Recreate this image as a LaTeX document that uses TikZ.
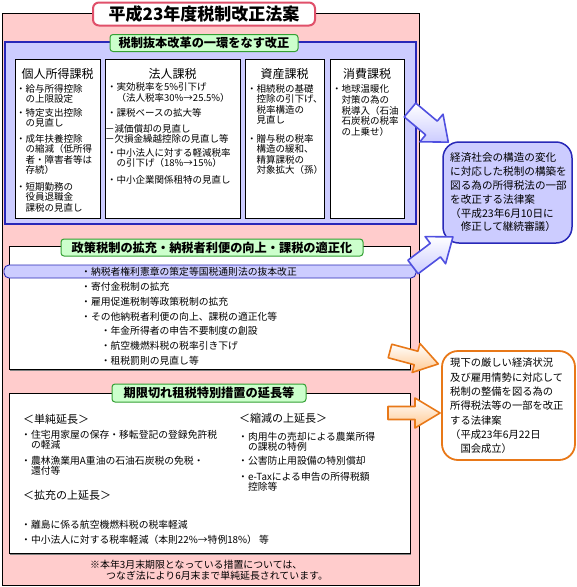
\documentclass[tikz,border=0pt]{standalone}
\usepackage{fontspec}
\setmainfont{Noto Sans CJK JP}
\definecolor{pinkbg}{HTML}{FFCCCC}
\definecolor{lav}{HTML}{CCCCFF}
\definecolor{blueln}{HTML}{2828B8}
\definecolor{greenfill}{HTML}{CCFFCC}
\definecolor{greenln}{HTML}{33A033}
\definecolor{titleln}{HTML}{E0506A}
\definecolor{orangeln}{HTML}{E87818}
\definecolor{orangefill}{HTML}{FFC890}
\definecolor{arrowblue}{HTML}{5050E0}
\newcommand{\blockarr}[8]{%
  \begin{scope}[shift={(#1,#2)},rotate=#3]
    \draw[#8] (0,-#5) -- ({#4-#7},-#5) -- ({#4-#7},-#6) -- (#4,0) -- ({#4-#7},#6) -- ({#4-#7},#5) -- (0,#5) -- cycle;
  \end{scope}}
\begin{document}
\begin{tikzpicture}[x=1pt,y=-1pt,
  frame/.style={draw=black, line width=0.8pt},
  titlebox/.style={draw=titleln, line width=2pt, fill=white, rounded corners=6pt, minimum width=222pt, minimum height=23pt, inner sep=0pt, font=\fontsize{17}{17}\selectfont\bfseries},
  greenlbl/.style={draw=greenln, line width=1pt, fill=greenfill, rounded corners=3pt, inner sep=0pt, minimum height=17pt, font=\fontsize{12.2}{12.2}\selectfont\bfseries},
  coltitle/.style={font=\fontsize{12}{12}\selectfont, inner sep=0pt},
  item/.style={anchor=north west, inner sep=0pt, align=left, font=\fontsize{9.5}{10.2}\selectfont},
  itemb/.style={anchor=north west, inner sep=0pt, align=left, font=\fontsize{9.8}{10}\selectfont},
  head/.style={anchor=west, inner sep=0pt, font=\fontsize{11}{11}\selectfont},
  bodytxt/.style={anchor=north west, inner sep=0pt, align=left, font=\fontsize{9.8}{14.8}\selectfont},
  bubtxt/.style={anchor=north west, inner sep=0pt, align=left, font=\fontsize{10.6}{13.8}\selectfont},
  bubtxtb/.style={anchor=north west, inner sep=0pt, align=left, font=\fontsize{10.3}{14.3}\selectfont},
  note/.style={anchor=west, inner sep=0pt, font=\fontsize{9.9}{9.9}\selectfont},
  bluearrow/.style={draw=arrowblue, line width=1.6pt, top color=white, bottom color=lav, line join=round},
  orangearrow/.style={draw=orangeln, line width=1.6pt, top color=white, bottom color=orangefill, line join=round}]
\useasboundingbox (0,0) rectangle (577,587);
\fill[white] (0,0) rectangle (577,587);

% outer frame
\draw[frame, fill=pinkbg] (2,13) rectangle (419,585);
\node[titlebox] (title) at (204,14) {平成23年度税制改正法案};

% section 1
\draw[draw=blueln, line width=1.2pt, fill=lav] (5,42) rectangle (416,224);
\draw[frame, fill=white] (15,59) rectangle (100,218);
\draw[frame, fill=white] (105,59) rectangle (240,218);
\draw[frame, fill=white] (245,59) rectangle (324,218);
\draw[frame, fill=white] (330,59) rectangle (404,218);
\node[greenlbl, minimum width=188pt] (lbl1) at (204,43) {税制抜本改革の一環をなす改正};

\node[coltitle] (t1) at (57.5,74) {個人所得課税};
\node[coltitle] (t2) at (172.5,74) {法人課税};
\node[coltitle] (t3) at (284.5,74) {資産課税};
\node[coltitle] (t4) at (367,74) {消費課税};

\node[item] (a1) at (16,84.5) {・給与所得控除\\　の上限設定};
\node[item] (a2) at (16,108.5) {・特定支出控除\\　の見直し};
\node[item] (a3) at (16,134.5) {・成年扶養控除\\　の縮減（低所得\\　者・障害者等は\\　存続）};
\node[item] (a4) at (16,182.5) {・短期勤務の\\　役員退職金\\　課税の見直し};

\node[item] (b1) at (107,82) {・実効税率を5\%引下げ\\[1pt]　（法人税率30\%→25.5\%）};
\node[item] (b2) at (107,108.5) {・課税ベースの拡大等};
\node[item] (b3) at (105,124.5) {－減価償却の見直し\\－欠損金繰越控除の見直し等};
\node[item] (b4) at (107,148.5) {・中小法人に対する軽減税率\\　の引下げ（18\%→15\%）};
\node[item] (b5) at (107,175) {・中小企業関係租特の見直し};

\node[item] (c1) at (247,84.5) {・相続税の基礎\\　控除の引下げ、\\　税率構造の\\　見直し};
\node[item] (c2) at (247,134.5) {・贈与税の税率\\　構造の緩和、\\　精算課税の\\　対象拡大（孫）};

\node[item, font=\fontsize{9.5}{10.7}\selectfont] (d1) at (332,84.5) {・地球温暖化\\　対策の為の\\　税導入（石油\\　石炭税の税率\\　の上乗せ）};

% section 2
\draw[gray, line width=1.5pt] (10,370.5) -- (411,370.5);
\draw[frame, fill=white] (9,246) rectangle (410,369);
\node[greenlbl, minimum width=302pt] (lbl2) at (212,247.5) {政策税制の拡充・納税者利便の向上・課税の適正化};
\node[draw=blueln, line width=0.9pt, fill=lav, rounded corners=5pt, minimum width=412pt, minimum height=13pt, inner sep=0pt] (bar) at (210,271.5) {};
\node[anchor=west, inner sep=0pt, font=\fontsize{9.8}{9.8}\selectfont] (bartxt) at (81,271.5) {・納税者権利憲章の策定等国税通則法の抜本改正};
\node[bodytxt] (s2) at (81,282) {・寄付金税制の拡充\\・雇用促進税制等政策税制の拡充\\・その他納税者利便の向上、課税の適正化等\\　　・年金所得者の申告不要制度の創設\\　　・航空機燃料税の税率引き下げ\\　　・租税罰則の見直し等};

% section 3
\draw[gray, line width=1.5pt] (10,554.5) -- (411,554.5);
\draw[frame, fill=white] (9,393) rectangle (410,553);
\node[greenlbl, minimum width=194pt, minimum height=18pt] (lbl3) at (209,393) {期限切れ租税特別措置の延長等};
\node[head] (h1) at (23,419) {＜単純延長＞};
\node[itemb] (e1) at (21,430) {・住宅用家屋の保存・移転登記の登録免許税\\　の軽減};
\node[itemb] (e2) at (21,456) {・農林漁業用A重油の石油石炭税の免税・\\　還付等};
\node[head] (h2) at (23,495) {＜拡充の上延長＞};
\node[itemb] (e3) at (21,520) {・離島に係る航空機燃料税の税率軽減};
\node[itemb] (e4) at (21,535) {・中小法人に対する税率軽減（本則22\%→特例18\%） 等};
\node[head] (h3) at (239,418) {＜縮減の上延長＞};
\node[itemb] (f1) at (238,432) {・肉用牛の売却による農業所得\\　の課税の特例};
\node[itemb] (f2) at (238,456) {・公害防止用設備の特別償却};
\node[itemb] (f3) at (238,472) {・e-Taxによる申告の所得税額\\　控除等};

\node[note] (n1) at (90,565) {※本年3月末期限となっている措置については、};
\node[note] (n2) at (106,576) {つなぎ法により6月末まで単純延長されています。};

% bubbles
\node[draw=blueln, line width=1.5pt, fill=lav, rounded corners=16pt, minimum width=129pt, minimum height=101pt, inner sep=0pt] (bub1) at (507.5,192.5) {};
\node[bubtxt] (bt1) at (450,152.7) {経済社会の構造の変化\\に対応した税制の構築を\\図る為の所得税法の一部\\を改正する法律案\\（平成23年6月10日に\\　修正して継続審議）};
\node[draw=orangeln, line width=1.8pt, fill=white, rounded corners=16pt, minimum width=133pt, minimum height=109pt, inner sep=0pt] (bub2) at (508.5,405.5) {};
\node[bubtxtb] (bt2) at (450,358) {現下の厳しい経済状況\\及び雇用情勢に対応して\\税制の整備を図る為の\\所得税法等の一部を改正\\する法律案\\（平成23年6月22日\\　国会成立）};

% block arrows
\blockarr{410}{110}{-40}{50}{9}{18}{22}{bluearrow}
\blockarr{413}{267}{37}{50}{8.5}{17}{22}{bluearrow}
\blockarr{390}{351}{-15}{50}{7}{15}{23}{orangearrow}
\blockarr{388}{413}{0}{52}{6.5}{15}{25}{orangearrow}
\end{tikzpicture}
\end{document}
